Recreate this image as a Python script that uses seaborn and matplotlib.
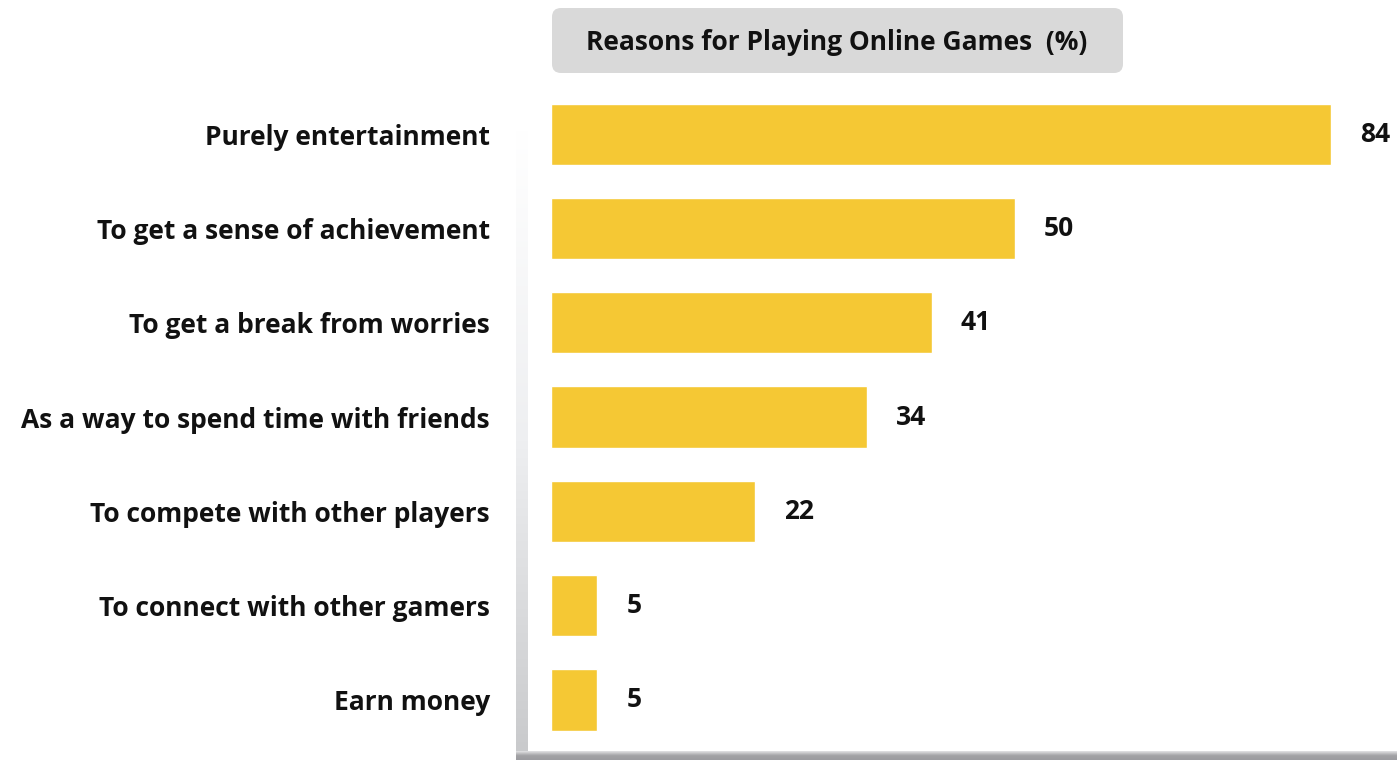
import numpy as np
import matplotlib
matplotlib.use("Agg")
import matplotlib.pyplot as plt
from matplotlib.patches import FancyBboxPatch
import seaborn as sns
import pandas as pd

reasons = [
    "Purely entertainment",
    "To get a sense of achievement",
    "To get a break from worries",
    "As a way to spend time with friends",
    "To compete with other players",
    "To connect with other gamers",
    "Earn money",
]
shares = [84, 50, 41, 34, 22, 5, 5]
title = "Reasons for Playing Online Games  (%)"

bar_color = "#F5C834"

sns.set_theme(style="white")
plt.rcParams["font.family"] = ["Open Sans", "DejaVu Sans"]

W, H = 1397, 760
fig = plt.figure(figsize=(W / 100, H / 100), dpi=100)

# background layer in pixel coordinates for the frame and title box
bg = fig.add_axes([0, 0, 1, 1], zorder=0)
bg.set_xlim(0, W)
bg.set_ylim(H, 0)
bg.axis("off")

# left frame edge: fades in from the top
grad_v = np.linspace(0, 1, 256).reshape(-1, 1)
cmap_v = matplotlib.colors.LinearSegmentedColormap.from_list("v", ["#ffffff", "#eeeff1", "#c9cacc"])
bg.imshow(grad_v, cmap=cmap_v, aspect="auto", extent=[516, 528, 752, 130], zorder=1)
# bottom frame edge
cmap_h = matplotlib.colors.LinearSegmentedColormap.from_list("h", ["#e3e3e5", "#a2a2a5", "#9c9ca0"])
grad_h = np.linspace(0, 1, 64).reshape(-1, 1)
bg.imshow(grad_h, cmap=cmap_h, aspect="auto", extent=[516, W, 760, 751], zorder=1)

# title box
box = FancyBboxPatch((552, 8), 571, 65, boxstyle="round,pad=0,rounding_size=9",
                     facecolor="#d9d9d9", edgecolor="none", zorder=2)
bg.add_patch(box)
bg.text(837, 42, title, ha="center", va="center", fontsize=19,
        fontweight="bold", color="#111111", zorder=3)

# bar chart
left = 551 / W
ax = fig.add_axes([left, (H - 747) / H, 1 - left, (747 - 87) / H], zorder=1)
ax.patch.set_alpha(0)

df = pd.DataFrame({"reason": reasons, "share": shares})
sns.barplot(data=df, y="reason", x="share", orient="h", color=bar_color,
            saturation=1, width=0.65, ax=ax, order=reasons)

ax.set_xlim(0, (W - 551) / 9.286)
ax.set_ylim(len(reasons) - 0.5, -0.5)
ax.set_xlabel("")
ax.set_ylabel("")
ax.set_xticks([])
for s in ax.spines.values():
    s.set_visible(False)
ax.tick_params(axis="y", length=0, pad=44)
for lbl in ax.get_yticklabels():
    lbl.set_fontsize(19)
    lbl.set_fontweight("bold")
    lbl.set_color("#111111")

for i, v in enumerate(shares):
    ax.text(v + 3.1, i, f"{v}", va="center", ha="left", fontsize=19,
            fontweight="bold", color="#111111")

fig.savefig("out.png", dpi=100)
